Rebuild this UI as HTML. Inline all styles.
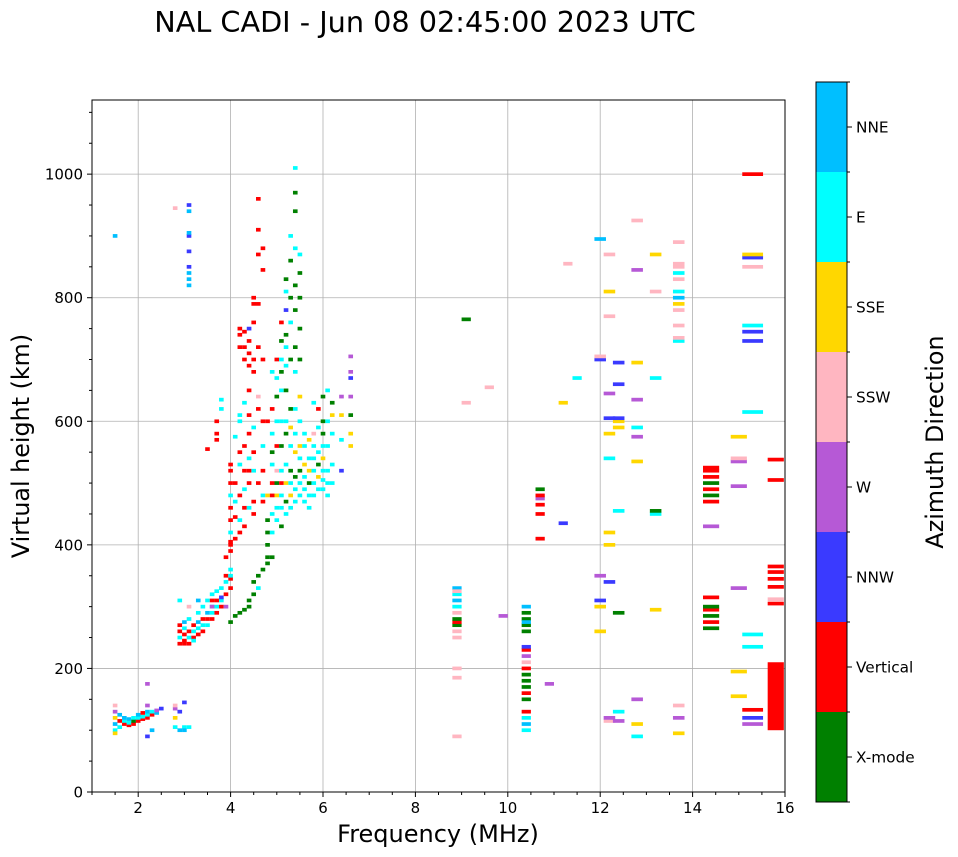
<!DOCTYPE html>
<html><head><meta charset="utf-8">
<style>
html,body{margin:0;padding:0;background:#fff;}
svg{display:block;font-family:"DejaVu Sans","Liberation Sans",sans-serif;}
</style></head>
<body>
<svg id="chart" width="958" height="857" viewBox="0 0 958 857">
<text x="425" y="32" font-size="28.7" text-anchor="middle">NAL CADI - Jun 08 02:45:00 2023 UTC</text>
<g id="grid"></g>
<g id="marks"></g>
<rect x="92" y="100" width="693" height="692" fill="none" stroke="#000" stroke-width="1"/>
<g id="axes"></g>
<text x="438" y="842" font-size="24" text-anchor="middle">Frequency (MHz)</text>
<text transform="translate(29,446) rotate(-90)" font-size="23.8" text-anchor="middle">Virtual height (km)</text>
<g id="cbar"></g>
<text transform="translate(943,442) rotate(-90)" font-size="23.8" text-anchor="middle">Azimuth Direction</text>
</svg>
<script>
const directions = ["X-mode","Vertical","NNW","W","SSW","SSE","E","NNE"];
const dirColors = ["#008000","#ff0000","#3a3aff","#b659d6","#ffb6c1","#ffd700","#00ffff","#00bfff"];
const xTicks = [2,4,6,8,10,12,14,16];
const yTicks = [0,200,400,600,800,1000];
// [frequency MHz, virtual height km, direction index]
const points = [
[1.5,100,6],[1.5,110,7],[1.5,120,5],[1.5,130,3],[1.5,140,4],[1.5,95,5],[1.5,900,7],
[1.6,105,6],[1.6,115,1],[1.6,125,7],[1.7,110,1],[1.7,115,6],[1.7,120,7],
[1.8,108,1],[1.8,112,6],[1.8,118,7],[1.9,110,1],[1.9,115,0],[1.9,120,6],
[2.0,115,1],[2.0,120,6],[2.0,125,7],[2.1,118,1],[2.1,122,6],[2.1,128,1],
[2.2,120,1],[2.2,125,6],[2.2,130,7],[2.2,90,2],[2.2,140,3],[2.2,175,3],
[2.3,100,7],[2.3,125,1],[2.3,130,6],[2.4,128,7],[2.4,132,3],[2.5,135,2],
[2.8,105,6],[2.8,120,5],[2.8,135,3],[2.8,140,4],[2.8,945,4],[2.9,100,7],[2.9,130,2],
[3.0,105,6],[3.0,100,7],[3.0,145,2],[3.1,105,6],
[2.9,240,1],[2.9,250,6],[2.9,260,1],[2.9,270,1],[2.9,310,6],
[3.0,245,1],[3.0,255,1],[3.0,265,6],[3.0,275,7],[3.0,240,1],
[3.1,240,1],[3.1,250,6],[3.1,260,1],[3.1,280,6],[3.1,300,4],
[3.2,250,1],[3.2,260,6],[3.2,270,1],[3.2,245,6],
[3.3,255,1],[3.3,265,6],[3.3,275,7],[3.3,290,6],[3.3,310,7],
[3.4,260,1],[3.4,270,6],[3.4,280,1],[3.4,300,6],
[3.5,270,6],[3.5,280,1],[3.5,290,7],[3.5,310,6],[3.5,555,1],
[3.6,280,1],[3.6,290,6],[3.6,300,7],[3.6,310,1],[3.6,320,6],[3.6,300,3],
[3.7,290,1],[3.7,300,6],[3.7,310,1],[3.7,325,6],[3.7,570,1],[3.7,580,1],[3.7,600,1],
[3.8,300,1],[3.8,310,6],[3.8,330,6],[3.8,315,2],[3.8,620,6],[3.8,635,6],
[3.9,320,1],[3.9,340,6],[3.9,300,3],[3.9,350,1],[3.9,380,1],
[4.0,330,1],[4.0,345,1],[4.0,360,6],[4.0,390,1],[4.0,405,1],[4.0,350,6],
[3.1,820,7],[3.1,830,7],[3.1,840,7],[3.1,850,2],[3.1,875,2],[3.1,900,2],[3.1,905,7],[3.1,940,7],[3.1,950,2],
[4.0,275,0],[4.0,400,1],[4.0,420,6],[4.0,440,1],[4.0,460,1],[4.0,480,6],[4.0,500,1],[4.0,520,1],[4.0,530,1],
[4.1,285,0],[4.1,410,1],[4.1,445,1],[4.1,500,1],[4.1,470,6],[4.1,575,6],
[4.2,290,0],[4.2,420,1],[4.2,440,6],[4.2,480,1],[4.2,530,6],[4.2,550,1],[4.2,600,6],[4.2,610,6],[4.2,720,1],[4.2,740,1],[4.2,750,1],
[4.3,295,0],[4.3,430,1],[4.3,460,1],[4.3,490,6],[4.3,520,1],[4.3,560,1],[4.3,630,6],[4.3,700,1],[4.3,720,1],[4.3,745,1],
[4.4,300,0],[4.4,310,0],[4.4,460,6],[4.4,500,1],[4.4,520,1],[4.4,540,6],[4.4,580,1],[4.4,610,1],[4.4,650,1],[4.4,690,1],[4.4,710,1],[4.4,730,1],[4.4,750,2],
[4.5,320,0],[4.5,340,0],[4.5,450,1],[4.5,470,1],[4.5,520,6],[4.5,550,1],[4.5,590,6],[4.5,680,1],[4.5,700,1],[4.5,760,1],[4.5,790,1],[4.5,800,1],
[4.6,350,0],[4.6,330,6],[4.6,500,1],[4.6,620,1],[4.6,640,4],[4.6,720,1],[4.6,790,1],[4.6,870,1],[4.6,910,1],[4.6,960,1],
[4.7,360,0],[4.7,470,1],[4.7,480,6],[4.7,520,1],[4.7,560,6],[4.7,600,1],[4.7,700,1],[4.7,880,1],[4.7,845,1],
[4.8,370,0],[4.8,380,0],[4.8,400,0],[4.8,420,0],[4.8,440,0],[4.8,480,5],[4.8,600,1],
[4.9,380,0],[4.9,420,6],[4.9,450,6],[4.9,480,1],[4.9,500,1],[4.9,530,6],[4.9,550,0],[4.9,580,6],[4.9,620,1],[4.9,680,6],
[5.0,440,6],[5.0,460,6],[5.0,480,5],[5.0,500,0],[5.0,520,4],[5.0,560,1],[5.0,600,6],[5.0,640,0],[5.0,670,6],[5.0,700,1],
[5.1,430,0],[5.1,460,6],[5.1,480,6],[5.1,500,1],[5.1,520,6],[5.1,560,0],[5.1,600,6],[5.1,650,6],[5.1,680,0],[5.1,700,6],[5.1,730,0],[5.1,760,1],
[5.2,450,6],[5.2,470,0],[5.2,500,5],[5.2,530,6],[5.2,580,0],[5.2,600,6],[5.2,650,0],[5.2,690,6],[5.2,720,6],[5.2,740,0],[5.2,780,2],[5.2,810,6],[5.2,830,0],
[5.3,460,6],[5.3,480,5],[5.3,500,6],[5.3,520,0],[5.3,560,6],[5.3,590,5],[5.3,620,0],[5.3,700,0],[5.3,760,6],[5.3,800,0],[5.3,860,0],[5.3,900,6],
[5.4,470,6],[5.4,490,6],[5.4,510,0],[5.4,550,5],[5.4,580,6],[5.4,620,6],[5.4,680,6],[5.4,720,0],[5.4,780,0],[5.4,820,0],[5.4,880,6],[5.4,940,0],[5.4,970,0],[5.4,1010,6],
[5.5,480,6],[5.5,500,6],[5.5,520,0],[5.5,540,6],[5.5,560,5],[5.5,600,6],[5.5,640,5],[5.5,700,0],[5.5,750,0],[5.5,800,0],[5.5,840,0],[5.5,870,6],
[5.6,470,6],[5.6,490,6],[5.6,510,6],[5.6,530,5],[5.6,560,6],[5.6,580,6],
[5.7,460,6],[5.7,480,6],[5.7,500,0],[5.7,520,5],[5.7,540,6],[5.7,570,5],
[5.8,480,6],[5.8,500,6],[5.8,520,6],[5.8,540,6],[5.8,560,6],[5.8,580,4],[5.8,630,6],
[5.9,490,6],[5.9,510,5],[5.9,530,0],[5.9,550,6],[5.9,590,6],[5.9,620,1],
[6.0,490,6],[6.0,505,6],[6.0,520,6],[6.0,540,5],[6.0,560,6],[6.0,580,0],[6.0,600,0],[6.0,640,0],
[6.1,480,6],[6.1,500,6],[6.1,520,6],[6.1,560,6],[6.1,600,6],[6.1,650,6],
[6.2,500,6],[6.2,530,6],[6.2,580,6],[6.2,610,5],[6.2,630,0],
[6.4,520,2],[6.4,570,6],[6.4,610,5],[6.4,640,3],
[6.6,560,5],[6.6,580,5],[6.6,610,0],[6.6,640,3],[6.6,670,2],[6.6,680,3],[6.6,705,3],
[8.9,90,4],[8.9,185,4],[8.9,200,4],[8.9,250,4],[8.9,260,4],[8.9,270,0],[8.9,275,1],[8.9,280,0],[8.9,290,4],[8.9,300,6],[8.9,310,7],[8.9,320,6],[8.9,330,7],[8.9,325,4],
[9.1,765,0],[9.1,630,4],[9.6,655,4],[9.9,285,3],
[10.4,100,6],[10.4,110,7],[10.4,120,6],[10.4,130,1],[10.4,150,0],[10.4,160,1],[10.4,170,0],[10.4,180,0],[10.4,190,0],[10.4,200,1],[10.4,210,4],[10.4,220,3],[10.4,230,1],[10.4,235,2],[10.4,260,0],[10.4,270,0],[10.4,280,0],[10.4,290,0],[10.4,300,7],[10.4,275,7],
[10.7,410,1],[10.7,450,1],[10.7,465,1],[10.7,475,3],[10.7,480,1],[10.7,490,0],[10.9,175,3],
[11.2,435,2],[11.2,630,5],[11.3,855,4],[11.5,670,6],
[12.0,260,5],[12.0,300,5],[12.0,310,2],[12.0,350,3],[12.0,700,2],[12.0,705,4],[12.0,895,7],
[12.2,115,4],[12.2,120,3],[12.2,340,2],[12.2,400,5],[12.2,420,5],[12.2,540,6],[12.2,580,5],[12.2,605,2],[12.2,645,3],[12.2,770,4],[12.2,810,5],[12.2,870,4],
[12.4,115,3],[12.4,130,6],[12.4,290,0],[12.4,455,6],[12.4,590,5],[12.4,600,5],[12.4,605,2],[12.4,660,2],[12.4,695,2],
[12.8,90,6],[12.8,110,5],[12.8,150,3],[12.8,535,5],[12.8,575,3],[12.8,590,6],[12.8,635,3],[12.8,695,5],[12.8,845,3],[12.8,925,4],
[13.2,295,5],[13.2,450,6],[13.2,455,0],[13.2,670,6],[13.2,810,4],[13.2,870,5],
[13.7,95,5],[13.7,120,3],[13.7,140,4],[13.7,730,6],[13.7,735,4],[13.7,755,4],[13.7,780,4],[13.7,790,5],[13.7,800,7],[13.7,810,6],[13.7,830,4],[13.7,840,6],[13.7,850,4],[13.7,855,4],[13.7,890,4],
[14.4,265,0],[14.4,275,1],[14.4,285,0],[14.4,295,1],[14.4,300,0],[14.4,315,1],[14.4,430,3],[14.4,470,1],[14.4,480,0],[14.4,490,1],[14.4,500,0],[14.4,510,1],[14.4,520,1],[14.4,525,1],
[15.0,155,5],[15.0,195,5],[15.0,330,3],[15.0,495,3],[15.0,535,3],[15.0,540,4],[15.0,575,5],
[15.3,110,3],[15.3,120,2],[15.3,133,1],[15.3,235,6],[15.3,255,6],[15.3,615,6],[15.3,730,2],[15.3,745,2],[15.3,755,6],[15.3,850,4],[15.3,865,2],[15.3,870,5],[15.3,1000,1],
[15.8,305,1],[15.8,312,4],[15.8,332,1],[15.8,345,1],[15.8,356,1],[15.8,365,1],[15.8,505,1],[15.8,538,1]
];
// tall vertical-echo block: [freq, bottom km, top km, dir]
const blocks = [[15.8,100,210,1]];

const X0=92,X1=785,Y0=792,Y1=100;
const xs=f=>X0+(f-1)*(X1-X0)/15;
const ys=h=>Y0-h*(Y0-Y1)/1120;
const NS="http://www.w3.org/2000/svg";
function mk(tag,attrs,parent){const e=document.createElementNS(NS,tag);for(const k in attrs)e.setAttribute(k,attrs[k]);parent.appendChild(e);return e;}
function cellW(f){return f<8?0.1:f<12?0.2:f<14.2?0.25:f<15.2?0.35:f<15.6?0.45:0.35;}

const grid=document.getElementById('grid'),marks=document.getElementById('marks'),axes=document.getElementById('axes'),cbar=document.getElementById('cbar');
xTicks.forEach(t=>{if(t<16){const l=mk('line',{x1:xs(t),x2:xs(t),y1:Y1,y2:Y0,stroke:'#b0b0b0','stroke-width':0.8},grid);

}});
yTicks.forEach(t=>{if(t>0){const l=mk('line',{x1:X0,x2:X1,y1:ys(t),y2:ys(t),stroke:'#b0b0b0','stroke-width':0.8},grid);

}});

points.forEach(p=>{const w=cellW(p[0]);
const r=mk('rect',{x:xs(p[0]-w/2),y:ys(p[1]+3),width:xs(w+1)-X0,height:Math.max(2.5,ys(0)-ys(6)),fill:dirColors[p[2]]},marks);

});
blocks.forEach(b=>{const w=cellW(b[0]);
const r=mk('rect',{x:xs(b[0]-w/2),y:ys(b[2]),width:xs(w+1)-X0,height:ys(b[1])-ys(b[2]),fill:dirColors[b[3]]},marks);

});

xTicks.forEach(t=>{mk('line',{x1:xs(t),x2:xs(t),y1:Y0,y2:Y0+5,stroke:'#000'},axes);
const tx=mk('text',{x:xs(t),y:Y0+21,'font-size':15,'text-anchor':'middle'},axes);tx.textContent=t;

});
for(let f=1;f<=16;f+=0.5)if(f%2)mk('line',{x1:xs(f),x2:xs(f),y1:Y0,y2:Y0+3,stroke:'#000'},axes);
yTicks.forEach(t=>{mk('line',{x1:X0-5,x2:X0,y1:ys(t),y2:ys(t),stroke:'#000'},axes);
const tx=mk('text',{x:X0-9,y:ys(t)+5.5,'font-size':15,'text-anchor':'end'},axes);tx.textContent=t;

});
for(let h=50;h<=1100;h+=50)if(h%200)mk('line',{x1:X0-3,x2:X0,y1:ys(h),y2:ys(h),stroke:'#000'},axes);

const CB_X=816,CB_W=31,CB_TOP=82,CB_BOT=802,segH=(CB_BOT-CB_TOP)/directions.length;
directions.forEach((d,i)=>{const y=CB_BOT-(i+1)*segH;
const r=mk('rect',{x:CB_X,y:y,width:CB_W,height:segH,fill:dirColors[i]},cbar);


mk('line',{x1:CB_X+CB_W,x2:CB_X+CB_W+5,y1:y+segH/2,y2:y+segH/2,stroke:'#000'},cbar);
const tx=mk('text',{x:CB_X+CB_W+9,y:y+segH/2+5.5,'font-size':15.3},cbar);tx.textContent=d;

});
for(let i=0;i<=directions.length;i++){const y=CB_BOT-i*segH;mk('line',{x1:CB_X+CB_W,x2:CB_X+CB_W+3,y1:y,y2:y,stroke:'#000'},cbar);}
mk('rect',{x:CB_X,y:CB_TOP,width:CB_W,height:CB_BOT-CB_TOP,fill:'none',stroke:'#000'},cbar);
</script>
</body></html>
